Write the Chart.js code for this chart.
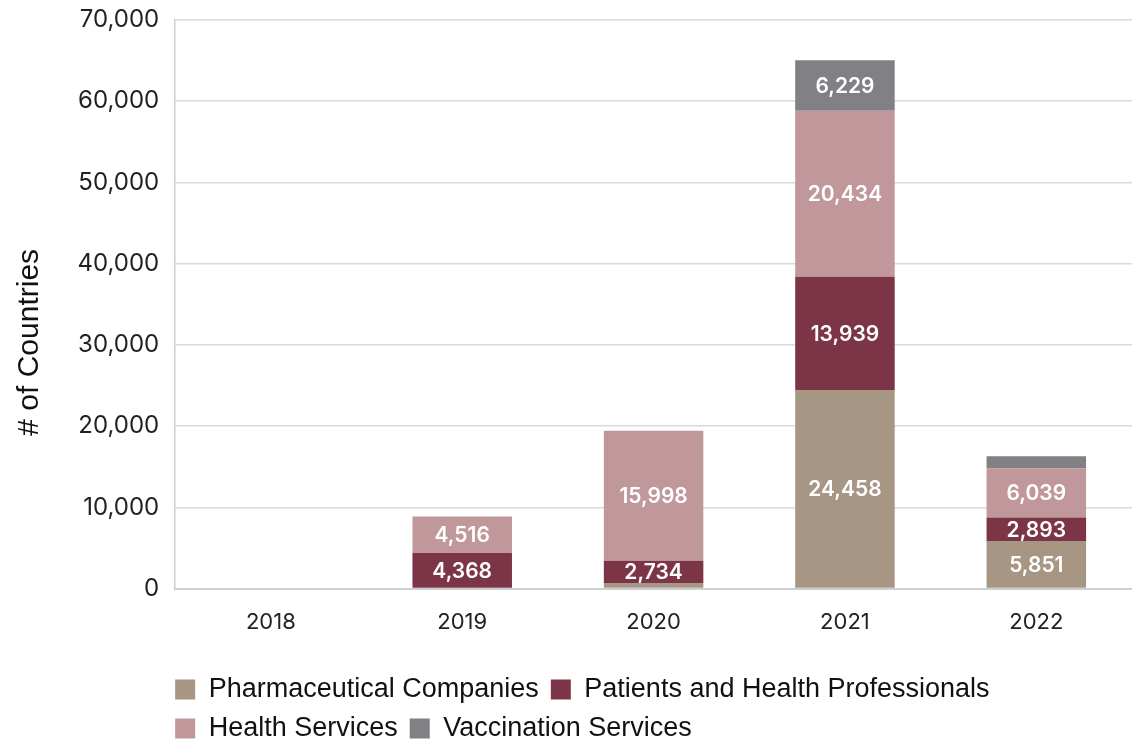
<!DOCTYPE html>
<html>
<head>
<meta charset="utf-8">
<script src="https://cdn.jsdelivr.net/npm/chart.js@4/dist/chart.umd.min.js"></script>
<style>
  html, body { margin: 0; padding: 0; background: #fff; }
  #wrap { width: 1132px; height: 740px; position: relative; }
</style>
</head>
<body>
<div id="wrap"><canvas id="chart"></canvas></div>
<script>
// data
const years = ['2018', '2019', '2020', '2021', '2022'];
const pharma = [0, 0, 700, 24458, 5851];
const patients = [0, 4368, 2734, 13939, 2893];
const healthServices = [0, 4516, 15998, 20434, 6039];
const vaccination = [0, 0, 0, 6229, 1500];
const yTicks = [0, 10000, 20000, 30000, 40000, 50000, 60000, 70000];
const yTitle = '# of Countries';

const FONT = 'Inter, "Noto Sans", sans-serif';
const SANS = '"Liberation Sans", Arial, sans-serif';
const LEGEND_PAD = 12;

const barLabels = {
    id: 'barLabels',
    afterLayout(chart) {
        // line the legend boxes up with the left edge of the plot
        chart.legend.left = chart.chartArea.left - LEGEND_PAD;
    },
    afterDatasetsDraw(chart) {
        // white value labels inside the segments, skipped when too thin
        const ctx = chart.ctx;
        ctx.save();
        ctx.font = '600 21px ' + FONT;
        ctx.fillStyle = '#ffffff';
        ctx.textAlign = 'center';
        ctx.textBaseline = 'middle';
        chart.data.datasets.forEach((ds, i) => {
            chart.getDatasetMeta(i).data.forEach((bar, j) => {
                const v = ds.data[j];
                const h = Math.abs(bar.base - bar.y);
                if (!v || h < 18) return;
                ctx.fillText(v.toLocaleString('en-US'), bar.x, (bar.y + bar.base) / 2 + 1);
            });
        });
        ctx.restore();
    },
    afterDraw(chart) {
        // axis title sits a bit below the middle of the plot in the original
        const ctx = chart.ctx;
        const a = chart.chartArea;
        ctx.save();
        ctx.translate(30, (a.top + a.bottom) / 2 + 38);
        ctx.rotate(-Math.PI / 2);
        ctx.font = '30px ' + SANS;
        ctx.fillStyle = '#111';
        ctx.textAlign = 'center';
        ctx.textBaseline = 'middle';
        ctx.fillText(yTitle, 0, 0);
        ctx.restore();
    }
};

new Chart(document.getElementById('chart').getContext('2d'), {
    type: 'bar',
    data: {
        labels: years,
        datasets: [
            { label: 'Pharmaceutical Companies', data: pharma, backgroundColor: '#a69683' },
            { label: 'Patients and Health Professionals', data: patients, backgroundColor: '#7b3546' },
            { label: 'Health Services', data: healthServices, backgroundColor: '#c0979b' },
            { label: 'Vaccination Services', data: vaccination, backgroundColor: '#808085' }
        ]
    },
    options: {
        responsive: true,
        maintainAspectRatio: false,
        animation: false,
        layout: { padding: { top: 20, right: 0, bottom: -12, left: 11 } },
        datasets: { bar: { categoryPercentage: 0.52, barPercentage: 1 } },
        plugins: {
            tooltip: { enabled: false },
            legend: {
                position: 'bottom',
                align: 'start',
                fullSize: false,
                labels: {
                    boxWidth: 20, boxHeight: 20, padding: LEGEND_PAD,
                    color: '#111', font: { family: SANS, size: 27 }
                }
            }
        },
        scales: {
            x: {
                stacked: true,
                grid: { display: false },
                border: { color: '#cfcfcf', width: 2 },
                ticks: { color: '#222', font: { family: FONT, size: 22 }, padding: 13 },
                afterFit: s => { s.height += 15; }
            },
            y: {
                stacked: true,
                min: 0, max: 70000,
                afterBuildTicks: axis => { axis.ticks = yTicks.map(v => ({ value: v })); },
                afterFit: s => { s.paddingTop = 0; },
                grid: { color: '#d9d9d9', lineWidth: 1.5, drawTicks: false },
                border: { color: '#cfcfcf', width: 1.5 },
                ticks: {
                    color: '#222', padding: 16,
                    font: { family: FONT, size: 24 },
                    callback: v => v.toLocaleString('en-US')
                },
                // space is kept for the title here, the text itself is drawn in afterDraw
                title: {
                    display: true, text: yTitle, color: 'rgba(0,0,0,0)',
                    font: { family: SANS, size: 27 }, padding: { bottom: 14 }
                }
            }
        }
    },
    plugins: [barLabels]
});
</script>
</body>
</html>
